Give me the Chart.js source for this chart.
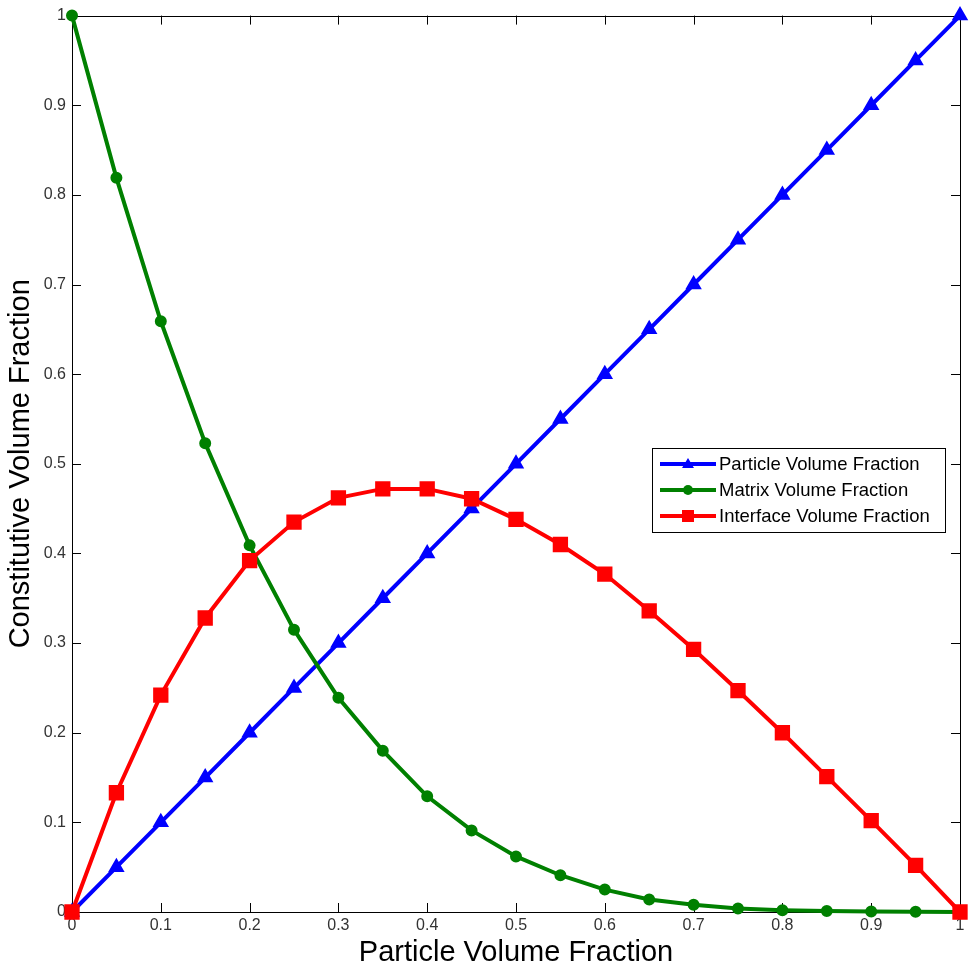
<!DOCTYPE html>
<html>
<head>
<meta charset="utf-8">
<script src="https://cdn.jsdelivr.net/npm/chart.js@4"></script>
<style>
  body { margin: 0; background: #fff; }
  #wrap { width: 972px; height: 971px; }
</style>
</head>
<body>
<div id="wrap"><canvas id="myChart" width="972" height="971"></canvas></div>
<script>
// x positions (particle volume fraction)
const xValues = [0, 0.05, 0.1, 0.15, 0.2, 0.25, 0.3, 0.35, 0.4, 0.45, 0.5,
                 0.55, 0.6, 0.65, 0.7, 0.75, 0.8, 0.85, 0.9, 0.95, 1];
const particle = [0, 0.05, 0.1, 0.15, 0.2, 0.25, 0.3, 0.35, 0.4, 0.45, 0.5,
                  0.55, 0.6, 0.65, 0.7, 0.75, 0.8, 0.85, 0.9, 0.95, 1];
const matrix = [1, 0.819, 0.659, 0.523, 0.409, 0.315, 0.239, 0.18, 0.129, 0.091, 0.062,
                0.041, 0.025, 0.014, 0.008, 0.004, 0.002, 0.001, 0.0005, 0.0002, 0];
const interfaceFrac = [0, 0.133, 0.242, 0.328, 0.392, 0.435, 0.462, 0.472, 0.472, 0.461, 0.438,
                       0.41, 0.377, 0.336, 0.293, 0.247, 0.2, 0.151, 0.102, 0.052, 0];
const seriesNames = ["Particle Volume Fraction", "Matrix Volume Fraction", "Interface Volume Fraction"];
const xTicks = [0, 0.1, 0.2, 0.3, 0.4, 0.5, 0.6, 0.7, 0.8, 0.9, 1];
const yTicks = [0, 0.1, 0.2, 0.3, 0.4, 0.5, 0.6, 0.7, 0.8, 0.9, 1];

const FONT = "'Liberation Sans', Arial, sans-serif";

function pts(ys) {
  return xValues.map((x, i) => ({ x: x, y: ys[i] }));
}

// inward ticks, box frame and the legend inside the plot
const matlabAxes = {
  id: "matlabAxes",
  beforeDatasetsDraw(chart) {
    const ctx = chart.ctx;
    const a = chart.chartArea;
    const xs = chart.scales.x, ys = chart.scales.y;
    ctx.save();
    ctx.strokeStyle = "#000";
    ctx.lineWidth = 1;
    ctx.beginPath();
    xTicks.forEach(v => {
      const px = Math.round(xs.getPixelForValue(v)) + 0.5;
      ctx.moveTo(px, a.bottom); ctx.lineTo(px, a.bottom - 9);
      ctx.moveTo(px, a.top); ctx.lineTo(px, a.top + 9);
    });
    yTicks.forEach(v => {
      const py = Math.round(ys.getPixelForValue(v)) + 0.5;
      ctx.moveTo(a.left, py); ctx.lineTo(a.left + 9, py);
      ctx.moveTo(a.right, py); ctx.lineTo(a.right - 9, py);
    });
    ctx.stroke();
    ctx.strokeRect(Math.round(a.left) + 0.5, Math.round(a.top) + 0.5,
                   Math.round(a.right - a.left), Math.round(a.bottom - a.top));
    ctx.restore();
  },
  afterDraw(chart) {
    const ctx = chart.ctx;
    ctx.save();
    const lx = 652, ly = 448, lw = 293, lh = 84;
    ctx.fillStyle = "#fff";
    ctx.fillRect(lx, ly, lw, lh);
    ctx.strokeStyle = "#000";
    ctx.lineWidth = 1;
    ctx.strokeRect(lx + 0.5, ly + 0.5, lw, lh);
    ctx.font = "18.5px " + FONT;
    ctx.textBaseline = "middle";
    chart.data.datasets.forEach((ds, i) => {
      const cy = ly + 16 + i * 26;
      ctx.strokeStyle = ds.borderColor;
      ctx.lineWidth = 4;
      ctx.beginPath();
      ctx.moveTo(lx + 8, cy); ctx.lineTo(lx + 64, cy);
      ctx.stroke();
      ctx.fillStyle = ds.borderColor;
      const cx = lx + 36;
      ctx.beginPath();
      if (ds.pointStyle === "triangle") {
        ctx.moveTo(cx, cy - 6); ctx.lineTo(cx + 6, cy + 4); ctx.lineTo(cx - 6, cy + 4);
      } else if (ds.pointStyle === "rect") {
        ctx.rect(cx - 6, cy - 6, 12, 12);
      } else {
        ctx.arc(cx, cy, 5, 0, Math.PI * 2);
      }
      ctx.fill();
      ctx.fillStyle = "#000";
      ctx.fillText(ds.label, lx + 67, cy + 1);
    });
    ctx.restore();
  }
};

new Chart("myChart", {
  type: "line",
  data: {
    datasets: [
      {
        label: seriesNames[0], data: pts(particle),
        borderColor: "#0000ff", backgroundColor: "#0000ff",
        borderWidth: 4, pointStyle: "triangle", pointRadius: 5.5, order: 2
      },
      {
        label: seriesNames[1], data: pts(matrix),
        borderColor: "#008000", backgroundColor: "#008000",
        borderWidth: 4, pointStyle: "circle", pointRadius: 4, order: 1
      },
      {
        label: seriesNames[2], data: pts(interfaceFrac),
        borderColor: "#ff0000", backgroundColor: "#ff0000",
        borderWidth: 4, pointStyle: "rect", pointRadius: 8, order: 0
      }
    ]
  },
  options: {
    responsive: false,
    animation: false,
    clip: false,
    layout: { padding: { top: 14, right: 9, left: 0, bottom: 0 } },
    plugins: {
      legend: { display: false },
      tooltip: { enabled: false }
    },
    elements: { line: { tension: 0 } },
    scales: {
      x: {
        type: "linear", min: 0, max: 1,
        afterFit(scale) { scale.height = 59; },
        afterBuildTicks(scale) { scale.ticks = xTicks.map(v => ({ value: v })); },
        grid: { display: false, drawTicks: false },
        border: { display: false },
        ticks: {
          color: "#333", padding: 4, maxRotation: 0,
          font: { family: FONT, size: 16 },
          callback: v => String(v)
        },
        title: {
          display: true, text: "Particle Volume Fraction", color: "#000",
          font: { family: FONT, size: 29 }, padding: { top: 0, bottom: 1 }
        }
      },
      y: {
        type: "linear", min: 0, max: 1,
        afterFit(scale) { scale.width = 72; },
        afterBuildTicks(scale) { scale.ticks = yTicks.map(v => ({ value: v })); },
        grid: { display: false, drawTicks: false },
        border: { display: false },
        ticks: {
          color: "#333", padding: 6,
          font: { family: FONT, size: 16 },
          callback: v => String(v)
        },
        title: {
          display: true, text: "Constitutive Volume Fraction", color: "#000",
          font: { family: FONT, size: 29 }, padding: { top: 4, bottom: 0 }
        }
      }
    }
  },
  plugins: [matlabAxes]
});
</script>
</body>
</html>
